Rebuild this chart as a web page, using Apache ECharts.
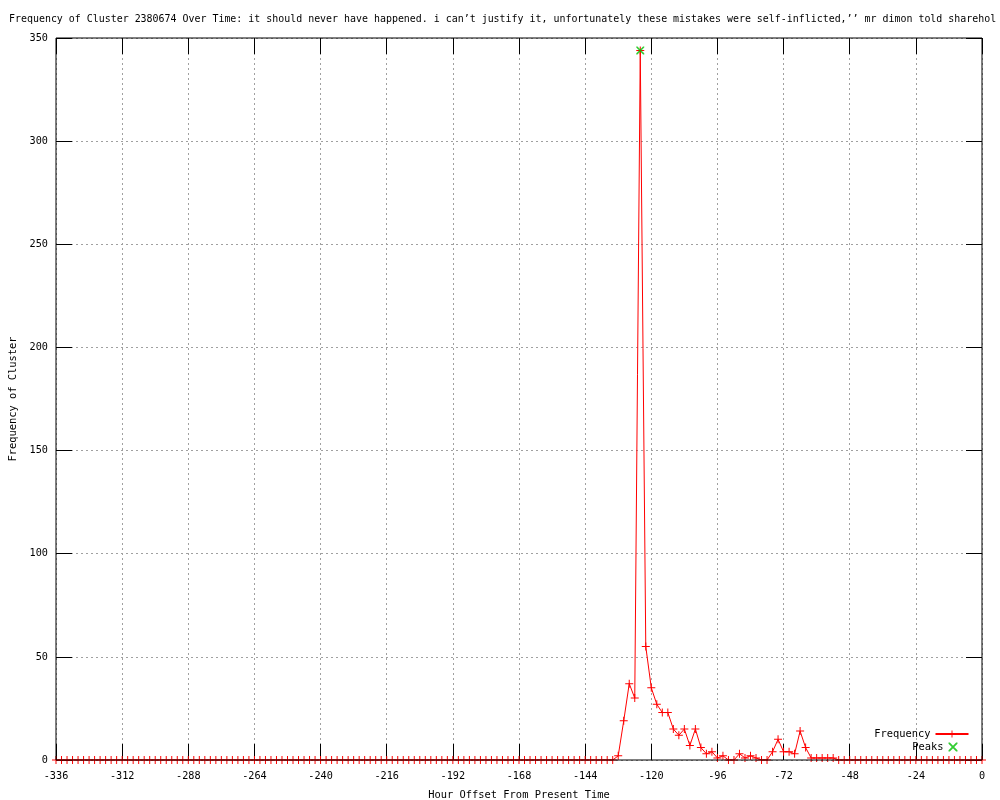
<!DOCTYPE html>
<html>
<head>
<meta charset="utf-8">
<script src="https://cdn.jsdelivr.net/npm/echarts@6/dist/echarts.min.js"></script>
<style>html,body{margin:0;padding:0;background:#fff;}#c{width:1000px;height:800px;}</style>
</head>
<body>
<div id="c"></div>
<script>
const titleText = "Frequency of Cluster 2380674 Over Time: it should never have happened. i can\u2019t justify it, unfortunately these mistakes were self-inflicted,\u2019\u2019 mr dimon told sharehol";
const xName = "Hour Offset From Present Time";
const yName = "Frequency of Cluster";

const hours = [
  -336,-334,-332,-330,-328,-326,-324,-322,-320,-318,-316,-314,
  -312,-310,-308,-306,-304,-302,-300,-298,-296,-294,-292,-290,
  -288,-286,-284,-282,-280,-278,-276,-274,-272,-270,-268,-266,
  -264,-262,-260,-258,-256,-254,-252,-250,-248,-246,-244,-242,
  -240,-238,-236,-234,-232,-230,-228,-226,-224,-222,-220,-218,
  -216,-214,-212,-210,-208,-206,-204,-202,-200,-198,-196,-194,
  -192,-190,-188,-186,-184,-182,-180,-178,-176,-174,-172,-170,
  -168,-166,-164,-162,-160,-158,-156,-154,-152,-150,-148,-146,
  -144,-142,-140,-138,-136,-134,-132,-130,-128,-126,-124,-122,
  -120,-118,-116,-114,-112,-110,-108,-106,-104,-102,-100,-98,
  -96,-94,-92,-90,-88,-86,-84,-82,-80,-78,-76,-74,
  -72,-70,-68,-66,-64,-62,-60,-58,-56,-54,-52,-50,
  -48,-46,-44,-42,-40,-38,-36,-34,-32,-30,-28,-26,
  -24,-22,-20,-18,-16,-14,-12,-10,-8,-6,-4,-2,
  0
];
const frequency = [
  0,0,0,0,0,0,0,0,0,0,0,0,
  0,0,0,0,0,0,0,0,0,0,0,0,
  0,0,0,0,0,0,0,0,0,0,0,0,
  0,0,0,0,0,0,0,0,0,0,0,0,
  0,0,0,0,0,0,0,0,0,0,0,0,
  0,0,0,0,0,0,0,0,0,0,0,0,
  0,0,0,0,0,0,0,0,0,0,0,0,
  0,0,0,0,0,0,0,0,0,0,0,0,
  0,0,0,0,0,0,2,19,37,30,344,55,
  35,27,23,23,15,12,15,7,15,6,3,4,
  1,2,0,0,3,1,2,1,0,0,4,10,
  4,4,3,14,6,1,1,1,1,1,0,0,
  0,0,0,0,0,0,0,0,0,0,0,0,
  0,0,0,0,0,0,0,0,0,0,0,0,
  0
];
const peakHours = [-124];
const peakValues = [344];
const xTicks = { min: -336, max: 0, step: 24 };
const yTicks = { min: 0, max: 350, step: 50 };

const FONT = "DejaVu Sans Mono";
const freqData = hours.map((h, i) => [h, frequency[i]]);
const peakData = peakHours.map((h, i) => [h, peakValues[i]]);

const plusSym = 'path://M0,3.5h8v1h-8z M3.5,0h1v8h-1z';
const xSym = 'path://M0,0L1.2,0L8,6.8L8,8L6.8,8L0,1.2Z M8,0L8,1.2L1.2,8L0,8L0,6.8L6.8,0Z';

const gridLine = { show: true, lineStyle: { color: '#a0a0a0', width: 1, type: [2, 3] } };
const tickLbl = { color: '#000', fontFamily: FONT, fontSize: 10.2 };
const nameLbl = { color: '#000', fontFamily: FONT, fontSize: 10.4 };
const tick = { show: true, inside: true, length: 16, lineStyle: { color: '#000', width: 1 } };
const noLine = { show: false, onZero: false };

const chart = echarts.init(document.getElementById('c'), null, { renderer: 'canvas' });
chart.setOption({
  animation: false,
  backgroundColor: '#fff',
  title: {
    text: titleText, left: 9, top: 14, padding: 0,
    textStyle: { color: '#000', fontFamily: FONT, fontSize: 9.95, fontWeight: 'normal' }
  },
  grid: { left: 56, right: 18, top: 38, bottom: 40, show: true, z: 3,
          borderColor: '#000', borderWidth: 1, backgroundColor: 'transparent',
          containLabel: false, outerBoundsMode: 'none' },
  legend: [
    { data: ['Frequency'], right: 25.5, top: 724, orient: 'vertical', align: 'right',
      itemWidth: 33, itemHeight: 9, itemGap: 2, textStyle: nameLbl, selectedMode: false },
    { data: [{ name: 'Peaks', icon: xSym }], right: 37.5, top: 737, orient: 'vertical', align: 'right',
      itemWidth: 9, itemHeight: 9, itemGap: 2, textStyle: nameLbl, selectedMode: false,
      itemStyle: { color: '#00c000' } }
  ],
  xAxis: [
    { type: 'value', min: xTicks.min, max: xTicks.max, interval: xTicks.step, position: 'bottom',
      name: xName, nameLocation: 'middle', nameGap: 30, nameTextStyle: nameLbl,
      axisLine: noLine, axisTick: tick,
      axisLabel: Object.assign({ margin: 11 }, tickLbl), splitLine: gridLine },
    { type: 'value', min: xTicks.min, max: xTicks.max, interval: xTicks.step, position: 'top',
      axisLine: noLine, axisTick: tick,
      axisLabel: { show: false }, splitLine: { show: false } }
  ],
  yAxis: [
    { type: 'value', min: yTicks.min, max: yTicks.max, interval: yTicks.step, position: 'left',
      name: yName, nameLocation: 'middle', nameGap: 38, nameRotate: 90, nameTextStyle: nameLbl,
      axisLine: noLine, axisTick: tick,
      axisLabel: Object.assign({ margin: 8 }, tickLbl), splitLine: gridLine },
    { type: 'value', min: yTicks.min, max: yTicks.max, interval: yTicks.step, position: 'right',
      axisLine: noLine, axisTick: tick,
      axisLabel: { show: false }, splitLine: { show: false } }
  ],
  series: [
    { name: 'Frequency', type: 'line', data: freqData, xAxisIndex: 0, yAxisIndex: 0,
      symbol: plusSym, symbolSize: 8, showAllSymbol: true,
      lineStyle: { color: '#ff0000', width: 1 }, itemStyle: { color: '#ff0000' }, z: 2 },
    { name: 'Peaks', type: 'scatter', data: peakData, xAxisIndex: 0, yAxisIndex: 0,
      symbol: xSym, symbolSize: 8, itemStyle: { color: '#00c000' }, z: 4 }
  ]
});
</script>
</body>
</html>
